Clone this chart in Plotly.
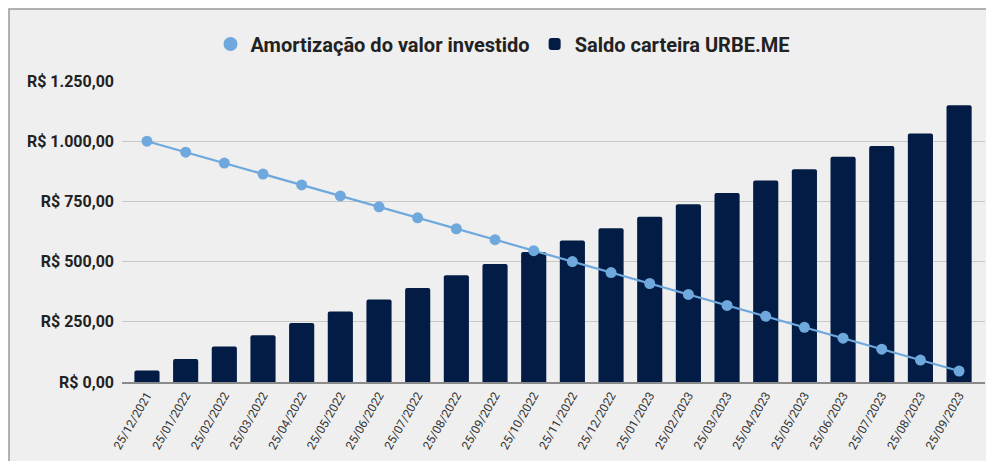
import plotly.graph_objects as go

categories = ["25/12/2021", "25/01/2022", "25/02/2022", "25/03/2022", "25/04/2022",
              "25/05/2022", "25/06/2022", "25/07/2022", "25/08/2022", "25/09/2022",
              "25/10/2022", "25/11/2022", "25/12/2022", "25/01/2023", "25/02/2023",
              "25/03/2023", "25/04/2023", "25/05/2023", "25/06/2023", "25/07/2023",
              "25/08/2023", "25/09/2023"]
amortizacao = [1000.00, 954.55, 909.09, 863.64, 818.18, 772.73, 727.27, 681.82, 636.36,
               590.91, 545.45, 500.00, 454.55, 409.09, 363.64, 318.18, 272.73, 227.27,
               181.82, 136.36, 90.91, 45.45]
saldo = [48, 95, 147, 194, 245, 293, 343, 390, 443, 490, 540, 588, 638, 686, 738,
         785, 837, 884, 935, 980, 1032, 1149]
y_ticks = [0, 250, 500, 750, 1000, 1250]
y_tick_labels = ["R$ 0,00", "R$ 250,00", "R$ 500,00", "R$ 750,00", "R$ 1.000,00", "R$ 1.250,00"]

line_color = "#6fa8dc"
bar_color = "#021c45"

fig = go.Figure()
fig.add_trace(go.Bar(x=categories, y=saldo, name="Saldo carteira URBE.ME",
                     marker=dict(color=bar_color, cornerradius=2, line=dict(width=0)),
                     width=0.65, legendrank=2))
fig.add_trace(go.Scatter(x=categories, y=amortizacao, mode="lines+markers",
                         line=dict(color=line_color, width=2.2),
                         marker=dict(color=line_color, size=11),
                         showlegend=False))
fig.add_trace(go.Scatter(x=[None], y=[None], mode="markers", name="Amortização do valor investido",
                         marker=dict(color=line_color, size=14), legendrank=1))

# page body has an 8px margin; compensate so the figure fills the 994x461 window
OFF = 8
L, R, T, B = 122 - OFF, 9, 81 - OFF, 79
W, H = 994 - OFF, 461 - OFF
pw, ph = W - L - R, H - T - B
fig.add_shape(type="rect", xref="paper", yref="paper",
              x0=(1 - L) / pw, x1=(W + 10 - L) / pw,
              y0=(H - B - (H + 10)) / ph, y1=(H - B - 1) / ph,
              fillcolor="#efefef", line=dict(color="#9a9a9a", width=1.5), layer="below")

fig.update_layout(
    width=W, height=H,
    margin=dict(l=L, r=R, t=T, b=B, autoexpand=False),
    paper_bgcolor="white", plot_bgcolor="rgba(0,0,0,0)",
    font=dict(family="Roboto", color="#222222"),
    bargap=0.35,
    legend=dict(orientation="h", x=(503 - OFF - L) / pw, xanchor="center",
                y=(H - B - (44 - OFF)) / ph, yanchor="middle",
                font=dict(size=20, family="Roboto", weight="bold", color="#222222"),
                bgcolor="rgba(0,0,0,0)", itemwidth=30, traceorder="normal"),
    xaxis=dict(type="category", range=[-0.646, 21.67], tickangle=-60, automargin=False,
               tickfont=dict(size=12, color="#333333"), showgrid=False,
               showline=True, linecolor="#8a8a8a", linewidth=1.5, ticks=""),
    yaxis=dict(range=[0, 1250], tickvals=y_ticks, ticktext=y_tick_labels, automargin=False,
               tickfont=dict(size=16, weight="bold", color="#222222"),
               gridcolor="#c8c8c8", gridwidth=1, zeroline=False, ticks="",
               ticklabelstandoff=7),
    showlegend=True,
)

fig.write_html("out.html")
